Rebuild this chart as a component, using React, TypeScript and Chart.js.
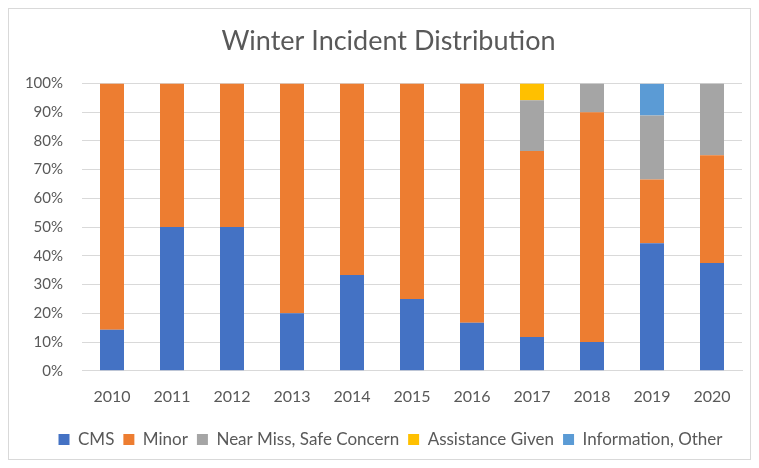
import React, { useEffect, useRef } from "react";
import { Chart, registerables } from "chart.js";

Chart.register(...registerables);

const years = ["2010", "2011", "2012", "2013", "2014", "2015", "2016", "2017", "2018", "2019", "2020"];
const cms = [14.3, 50, 50, 20, 33.3, 25, 16.7, 11.8, 10, 44.4, 37.5];
const minor = [85.7, 50, 50, 80, 66.7, 75, 83.3, 64.7, 80, 22.2, 37.5];
const nearMiss = [0, 0, 0, 0, 0, 0, 0, 17.6, 10, 22.2, 25];
const assistance = [0, 0, 0, 0, 0, 0, 0, 5.9, 0, 0, 0];
const information = [0, 0, 0, 0, 0, 0, 0, 0, 0, 11.1, 0];
const yTicks = [0, 10, 20, 30, 40, 50, 60, 70, 80, 90, 100];

const FONT = "Lato, 'Open Sans', sans-serif";

const shiftBlocks = {
  id: "shiftBlocks",
  afterLayout(chart: any) {
    const t = chart.titleBlock;
    if (t) {
      t.left += 13;
      t.right += 13;
    }
    const l = chart.legend;
    if (l) {
      l.left += 15;
      l.right += 15;
    }
  },
};

export default function App() {
  const ref = useRef<HTMLCanvasElement | null>(null);
  useEffect(() => {
    if (!ref.current) return;
    const mk = (label: string, data: number[], color: string) => ({
      label,
      data,
      backgroundColor: color,
      borderWidth: 0,
      categoryPercentage: 1,
      barPercentage: 0.4,
    });
    const chart = new Chart(ref.current, {
      type: "bar",
      data: {
        labels: years,
        datasets: [
          mk("CMS", cms, "#4472c4"),
          mk("Minor", minor, "#ed7d31"),
          mk("Near Miss, Safe Concern", nearMiss, "#a5a5a5"),
          mk("Assistance Given", assistance, "#ffc000"),
          mk("Information, Other", information, "#5b9bd5"),
        ],
      },
      plugins: [shiftBlocks],
      options: {
        animation: false,
        responsive: false,
        maintainAspectRatio: false,
        layout: { padding: { left: 0, right: 8, top: 6, bottom: 1 } },
        plugins: {
          title: {
            display: true,
            text: "Winter Incident Distribution",
            color: "#595959",
            font: { family: FONT, size: 27, weight: "normal" },
            padding: { top: 10, bottom: 26 },
          },
          legend: {
            position: "bottom",
            labels: {
              color: "#595959",
              font: { family: FONT, size: 17 },
              boxWidth: 11,
              boxHeight: 11,
              padding: 9,
            },
          },
          tooltip: { enabled: false },
        },
        scales: {
          x: {
            stacked: true,
            grid: { display: false, drawTicks: false },
            border: { color: "#d9d9d9" },
            ticks: { color: "#595959", font: { family: FONT, size: 16 }, padding: 16 },
          },
          y: {
            stacked: true,
            min: 0,
            max: 100,
            afterBuildTicks: (axis: any) => {
              axis.ticks = yTicks.map((v) => ({ value: v }));
            },
            afterFit: (axis: any) => {
              axis.width = 73;
            },
            grid: { color: "#d9d9d9", drawTicks: false },
            border: { display: false },
            ticks: {
              color: "#595959",
              font: { family: FONT, size: 15 },
              padding: 19,
              callback: (v: any) => v + "%",
            },
          },
        },
      },
    } as any);
    return () => chart.destroy();
  }, []);
  return (
    <div
      style={{
        width: 743,
        height: 452,
        border: "1px solid #d9d9d9",
        boxSizing: "border-box",
        background: "#fff",
      }}
    >
      <canvas ref={ref} width={741} height={450} style={{ display: "block" }} />
    </div>
  );
}
